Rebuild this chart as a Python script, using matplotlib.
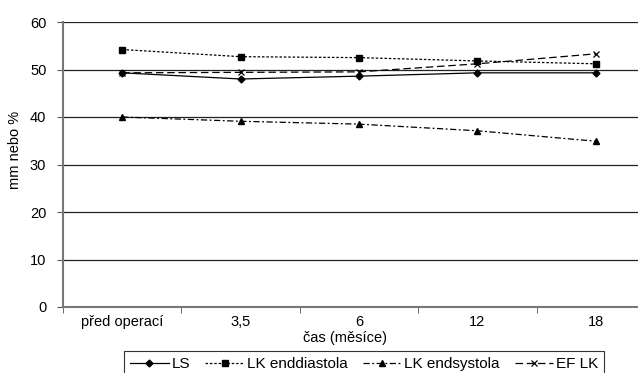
import matplotlib.pyplot as plt

plt.rcParams['font.family'] = ['Liberation Sans', 'DejaVu Sans']

casy = ['před operací', '3,5', '6', '12', '18']
ls = [49.3, 48.0, 48.6, 49.3, 49.3]
lk_diast = [54.2, 52.7, 52.5, 51.8, 51.2]
lk_syst = [40.0, 39.1, 38.5, 37.1, 34.9]
ef_lk = [49.3, 49.4, 49.5, 51.2, 53.3]

fig = plt.figure(figsize=(6.38, 3.73), dpi=100)
# the plot area runs past the right edge of the figure
ax = fig.add_axes([63 / 638, 66 / 373, 592 / 638, 285 / 373])

x = range(len(casy))
ax.plot(x, ls, color='black', lw=0.9, marker='D', ms=3.5, label='LS')
ax.plot(x, lk_diast, color='black', lw=0.9, ls=(0, (2, 1.5)), marker='s', ms=4.5,
        label='LK enddiastola')
ax.plot(x, lk_syst, color='black', lw=0.9, ls=(0, (5, 2, 1.5, 2)), marker='^', ms=4.5,
        label='LK endsystola')
ax.plot(x, ef_lk, color='black', lw=0.9, ls=(0, (6, 3)), marker='x', ms=5, mew=0.9,
        label='EF LK')

ax.set_xlim(-0.5, 4.5)
ax.set_ylim(0, 60)
ax.set_yticks(range(0, 61, 10))
ax.set_xticks(x)
ax.set_xticklabels(casy)
ax.set_xticks([i + 0.5 for i in range(-1, 5)], minor=True)
ax.tick_params(axis='x', which='major', length=0, pad=6)
ax.tick_params(axis='x', which='minor', length=4, color='#555555', direction='out')
ax.tick_params(axis='y', length=4, color='#555555', pad=8)
ax.tick_params(labelsize=10.5)
ax.grid(axis='y', color='#222222', lw=0.9)
ax.set_axisbelow(True)

for s in ['top', 'right']:
    ax.spines[s].set_visible(False)
for s in ['left', 'bottom']:
    ax.spines[s].set_color('#777777')
    ax.spines[s].set_linewidth(1.5)

ax.set_ylabel('mm nebo %', fontsize=10.5)
ax.yaxis.set_label_coords(-0.069, 0.551)
ax.set_xlabel('čas (měsíce)', fontsize=10.5)
ax.xaxis.set_label_coords(0.476, -0.085)

leg = fig.legend(loc='center', bbox_to_anchor=(0.571, 0.023), ncol=4, fontsize=11,
                 frameon=True, fancybox=False, edgecolor='black', handlelength=2.5,
                 handletextpad=0.2, columnspacing=1.0, borderpad=0.4)
leg.get_frame().set_linewidth(0.8)

fig.savefig('out.png', dpi=100)
